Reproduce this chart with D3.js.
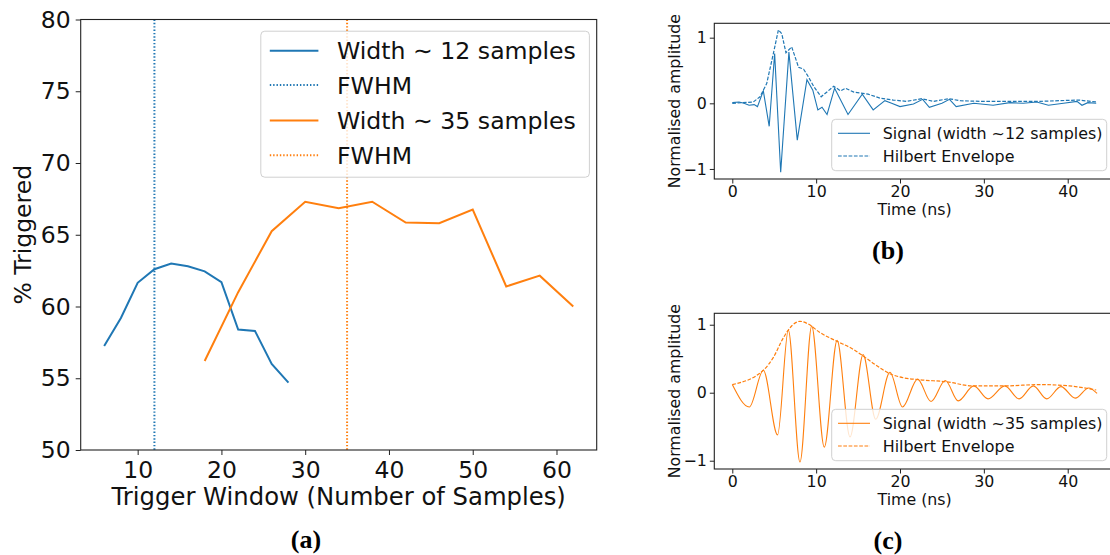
<!DOCTYPE html>
<html>
<head>
<meta charset="utf-8">
<script src="https://cdn.jsdelivr.net/npm/d3@7"></script>
<style>
  body { margin: 0; background: #fff; }
  svg { display: block; font-family: "DejaVu Sans", sans-serif; }
</style>
</head>
<body>
<svg id="fig" width="1110" height="555"></svg>
<script>
const BLUE = "#1f77b4", ORANGE = "#ff7f0e";

// (a) trigger efficiency against trigger window
const windowNarrow = [6, 8, 10, 12, 14, 16, 18, 20, 22, 24, 26, 28];
const trigNarrow = [57.25, 59.2, 61.65, 62.6, 63.0, 62.8, 62.45, 61.7, 58.4, 58.3, 56.0, 54.7];
const windowWide = [18, 22, 26, 30, 34, 38, 42, 46, 50, 54, 58, 62];
const trigWide = [56.2, 61.0, 65.25, 67.3, 66.85, 67.3, 65.85, 65.8, 66.75, 61.4, 62.15, 60.0];
const fwhmNarrow = 12, fwhmWide = 35;
const ticksA_x = [10, 20, 30, 40, 50, 60];
const ticksA_y = [50, 55, 60, 65, 70, 75, 80];

// (b) narrow pulse, [time ns, amplitude]
const signalNarrow = [[0,0.01],[0.8,0.02],[1.4,0.0],[2.0,-0.03],[2.6,-0.02],[3.0,-0.05],[3.7,0.19],[4.4,-0.35],
  [5.05,0.76],[5.77,-1.05],[6.75,0.78],[7.75,-0.56],[8.9,0.36],[9.6,0.2],[10.2,-0.1],[10.7,-0.06],[11.3,-0.17],
  [12.2,0.23],[13.8,-0.17],[15.5,0.14],[16.8,-0.1],[18.2,0.04],[19.0,0.0],[20.0,-0.05],[21.6,-0.01],[22.7,0.06],
  [23.5,-0.06],[25.0,0.0],[25.9,0.06],[26.7,-0.05],[28.8,0.0],[31.1,-0.03],[33.1,0.01],[34.7,0.0],[36.3,0.02],
  [37.7,-0.03],[39.5,0.0],[41.1,0.03],[41.7,-0.03],[42.4,0.01],[43.4,0.0]];
const envNarrow = [[0,0.0],[2.5,0.02],[3.3,0.1],[4.1,0.3],[4.9,0.76],[5.5,1.12],[5.9,1.06],[6.4,0.77],[7.08,0.86],
  [7.9,0.55],[8.5,0.52],[9.0,0.42],[9.7,0.26],[10.6,0.1],[12.1,0.26],[12.9,0.19],[13.5,0.23],[14.5,0.17],
  [16.2,0.14],[17.6,0.08],[19.2,0.05],[20.8,0.03],[22.6,0.07],[24.0,0.03],[25.8,0.07],[27.2,0.04],[29.5,0.03],
  [33.5,0.03],[36.7,0.03],[41.3,0.05],[43.4,0.02]];

// (c) wide pulse
const signalWide = [[0,0.12],[2.03,-0.21],[3.7,0.33],[5.4,-0.62],[6.68,0.92],[8.07,-1.02],[9.47,0.98],[10.97,-0.8],
  [12.5,0.77],[14.04,-0.65],[15.6,0.56],[17.1,-0.39],[18.8,0.3],[20.3,-0.21],[22.1,0.2],[23.7,-0.13],[25.4,0.18],
  [26.95,-0.12],[28.8,0.1],[30.5,-0.09],[32.5,0.1],[34.2,-0.09],[35.9,0.1],[37.5,-0.09],[39.2,0.09],[40.9,-0.08],
  [42.5,0.07],[43.5,-0.01]];
const envWide = [[0,0.12],[3.7,0.33],[4.9,0.52],[6.1,0.81],[7.1,0.985],[8.07,1.05],[9.06,1.01],[10.4,0.89],
  [12.4,0.76],[14.4,0.64],[15.6,0.54],[17.2,0.4],[18.8,0.28],[20.4,0.22],[22.4,0.19],[25.6,0.16],[28.7,0.1],
  [32.3,0.1],[36.7,0.12],[40.2,0.1],[43.4,0.04]];
const ticksT = [0, 10, 20, 30, 40];
const ticksAmp = [-1, 0, 1];

const svg = d3.select("#fig");

function styleAxis(g, fs) {
  g.select(".domain").remove();
  g.selectAll(".tick line").attr("stroke", "#222").attr("stroke-width", 1);
  g.selectAll(".tick text").attr("fill", "#111").style("font-size", fs + "px")
    .attr("font-family", "DejaVu Sans");
}

function frame(g, x0, x1, y0, y1) {
  g.append("rect").attr("x", x0).attr("y", y0).attr("width", x1 - x0).attr("height", y1 - y0)
    .attr("fill", "none").attr("stroke", "#222").attr("stroke-width", 1.1);
}

function legend(g, box, rows, fs) {
  g.append("rect").attr("x", box.x).attr("y", box.y).attr("width", box.w).attr("height", box.h)
    .attr("rx", 4).attr("fill", "#fff").attr("fill-opacity", 0.8)
    .attr("stroke", "#d0d0d0").attr("stroke-width", 1);
  rows.forEach((r, i) => {
    const y = box.rowY[i];
    g.append("line").attr("x1", box.lx0).attr("x2", box.lx1).attr("y1", y).attr("y2", y)
      .attr("stroke", r.color).attr("stroke-width", r.width)
      .attr("stroke-dasharray", r.dash || null);
    g.append("text").attr("x", box.tx).attr("y", y).attr("dy", "0.36em")
      .style("font-size", fs + "px").attr("fill", "#111").text(r.label);
  });
}

// ---------- panel (a) ----------
{
  const L = 80.7, R = 596.7, T = 19.5, B = 450;
  const x = d3.scaleLinear().domain([3.2, 64.8]).range([L, R]);
  const y = d3.scaleLinear().domain([50, 80]).range([B, T]);
  const g = svg.append("g");

  const line = d3.line().x(d => x(d[0])).y(d => y(d[1]));
  g.append("path").datum(d3.zip(windowNarrow, trigNarrow)).attr("d", line)
    .attr("fill", "none").attr("stroke", BLUE).attr("stroke-width", 2);
  g.append("path").datum(d3.zip(windowWide, trigWide)).attr("d", line)
    .attr("fill", "none").attr("stroke", ORANGE).attr("stroke-width", 2);

  [[fwhmNarrow, BLUE], [fwhmWide, ORANGE]].forEach(([v, c]) => {
    g.append("line").attr("x1", x(v)).attr("x2", x(v)).attr("y1", T).attr("y2", B)
      .attr("stroke", c).attr("stroke-width", 2).attr("stroke-dasharray", "1.4,1.95");
  });

  frame(g, L, R, T, B);
  g.append("g").attr("transform", `translate(0,${B})`)
    .call(d3.axisBottom(x).tickValues(ticksA_x).tickSize(5).tickPadding(6))
    .call(a => styleAxis(a, 23.5));
  g.append("g").attr("transform", `translate(${L},0)`)
    .call(d3.axisLeft(y).tickValues(ticksA_y).tickSize(5).tickPadding(5))
    .call(a => styleAxis(a, 23.5));

  g.append("text").attr("x", (L + R) / 2).attr("y", 505).attr("text-anchor", "middle")
    .style("font-size", "24.3px").attr("fill", "#111").text("Trigger Window (Number of Samples)");
  g.append("text").attr("transform", `translate(31,${(T + B) / 2}) rotate(-90)`)
    .attr("text-anchor", "middle").style("font-size", "23.5px").attr("fill", "#111").text("% Triggered");

  legend(g, { x: 260.8, y: 31.2, w: 328.6, h: 146, rowY: [50.7, 85.1, 120.6, 155.3], lx0: 269.8, lx1: 318.4, tx: 337 }, [
    { label: "Width \u223c 12 samples", color: BLUE, width: 2 },
    { label: "FWHM", color: BLUE, width: 2, dash: "1.4,1.95" },
    { label: "Width \u223c 35 samples", color: ORANGE, width: 2 },
    { label: "FWHM", color: ORANGE, width: 2, dash: "1.4,1.95" }
  ], 23.6);

  svg.append("text").attr("x", 306).attr("y", 548).attr("text-anchor", "middle")
    .attr("font-family", "Liberation Serif").attr("font-weight", "bold").style("font-size", "26px")
    .text("(a)");
}

// ---------- panels (b) and (c) ----------
function signalPanel(opt) {
  const L = 714.3, R = 1115, T = opt.top, B = opt.bottom;
  const x = d3.scaleLinear().domain([-2.147, 45.64]).range([L, R]);
  const y = d3.scaleLinear().domain(opt.yDomain).range([B, T]);
  const g = svg.append("g");

  g.append("path").datum(opt.signal)
    .attr("d", d3.line().x(d => x(d[0])).y(d => y(d[1])).curve(opt.curve))
    .attr("fill", "none").attr("stroke", opt.color).attr("stroke-width", 1.1);
  g.append("path").datum(opt.env)
    .attr("d", d3.line().x(d => x(d[0])).y(d => y(d[1])).curve(opt.envCurve))
    .attr("fill", "none").attr("stroke", opt.color).attr("stroke-width", 1.2)
    .attr("stroke-dasharray", "3.7,1.6");

  frame(g, L, R, T, B);
  g.append("g").attr("transform", `translate(0,${B})`)
    .call(d3.axisBottom(x).tickValues(ticksT).tickSize(4.5).tickPadding(2.5))
    .call(a => styleAxis(a, 15.8));
  g.append("g").attr("transform", `translate(${L},0)`)
    .call(d3.axisLeft(y).tickValues(ticksAmp).tickFormat(d => d < 0 ? "\u2212" + (-d) : d).tickSize(4.5).tickPadding(3))
    .call(a => styleAxis(a, 15.8));

  g.append("text").attr("x", (L + R) / 2).attr("y", B + 36).attr("text-anchor", "middle")
    .style("font-size", "15.8px").attr("fill", "#111").text("Time (ns)");
  g.append("text").attr("transform", `translate(680,${(T + B) / 2}) rotate(-90)`)
    .attr("text-anchor", "middle").style("font-size", "15.8px").attr("fill", "#111").text("Normalised amplitude");

  legend(g, { x: 831.7, y: opt.legY, w: 275, h: 51.4, rowY: [opt.legY + 14, opt.legY + 36.7], lx0: 838, lx1: 870, tx: 882.7 }, [
    { label: opt.label, color: opt.color, width: 1.1 },
    { label: "Hilbert Envelope", color: opt.color, width: 1.1, dash: "3.7,1.6" }
  ], 15.9);

  svg.append("text").attr("x", 888).attr("y", opt.tag[1]).attr("text-anchor", "middle")
    .attr("font-family", "Liberation Serif").attr("font-weight", "bold").style("font-size", "26px")
    .text(opt.tag[0]);
}

signalPanel({
  top: 23.3, bottom: 179, yDomain: [-1.153, 1.219], color: BLUE,
  signal: signalNarrow, env: envNarrow, curve: d3.curveLinear, envCurve: d3.curveLinear,
  label: "Signal (width ~12 samples)", legY: 119.3, tag: ["(b)", 259]
});
signalPanel({
  top: 313.3, bottom: 469, yDomain: [-1.122, 1.168], color: ORANGE,
  signal: signalWide, env: envWide, curve: d3.curveMonotoneX, envCurve: d3.curveMonotoneX,
  label: "Signal (width ~35 samples)", legY: 409.3, tag: ["(c)", 549]
});
</script>
</body>
</html>
